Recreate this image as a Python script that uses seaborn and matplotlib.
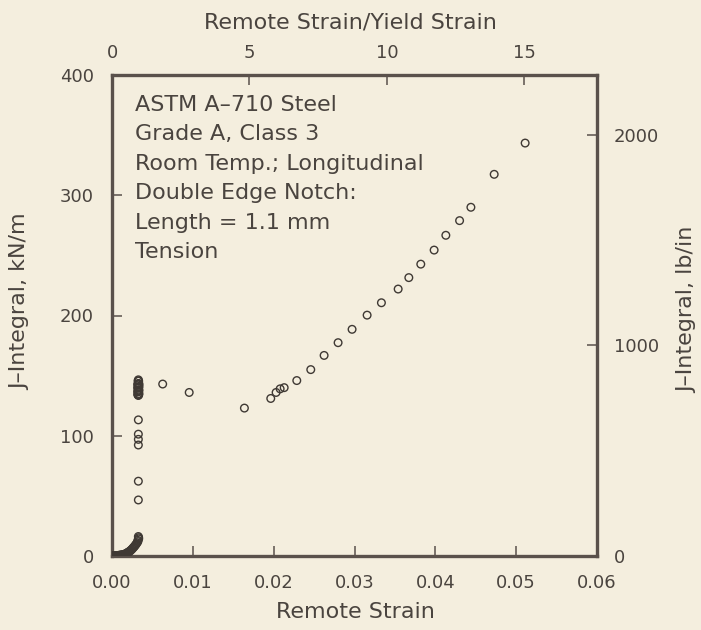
import matplotlib
matplotlib.use("Agg")
import matplotlib.pyplot as plt
import pandas as pd
import seaborn as sns

# Elastic loading from the origin up to general yield
ramp_strain = [0.0000, 0.0001, 0.0002, 0.0003, 0.0004, 0.0005, 0.0006, 0.0007,
               0.0008, 0.0009, 0.0010, 0.0011, 0.0012, 0.0013, 0.0014, 0.0015,
               0.0016, 0.0017, 0.0018, 0.0019, 0.0020, 0.0021, 0.0022, 0.0023,
               0.0024, 0.0025, 0.0026, 0.0027, 0.0028, 0.0029, 0.0030, 0.0031,
               0.0032, 0.0032, 0.0033, 0.0033]
ramp_j = [0.0, 0.0, 0.1, 0.1, 0.2, 0.2, 0.3, 0.4,
          0.5, 0.6, 0.7, 0.8, 0.9, 1.0, 1.1, 1.3,
          1.6, 1.9, 2.3, 2.7, 3.1, 3.5, 4.0, 4.6,
          5.2, 5.9, 6.7, 7.4, 8.2, 9.1, 10.0, 11.0,
          12.0, 13.0, 14.2, 15.2]

# Points recorded while the load rose at the yield strain
yield_strain = [0.00326, 0.00326, 0.00326, 0.00326, 0.00326, 0.00326, 0.00326,
                0.00318, 0.00322, 0.00326, 0.00330, 0.00334, 0.00318, 0.00322,
                0.00326, 0.00330, 0.00334, 0.00318, 0.00322, 0.00326, 0.00330,
                0.00334, 0.00318, 0.00322, 0.00326, 0.00330, 0.00334, 0.00322,
                0.00326, 0.00330]
yield_j = [16.2, 46.6, 62.2, 92.3, 97.0, 101.3, 113.2,
           134.5, 134.0, 133.5, 134.0, 135.0, 137.0, 136.5,
           137.5, 137.0, 138.0, 140.0, 139.5, 140.5, 140.0,
           141.0, 142.5, 143.0, 143.5, 142.5, 143.0, 145.5,
           146.5, 145.5]

# Post-yield loading
post_strain = [0.00627, 0.00955, 0.01638, 0.01964, 0.02030, 0.02080, 0.02130,
               0.02286, 0.02459, 0.02624, 0.02797, 0.02970, 0.03156, 0.03333,
               0.03540, 0.03672, 0.03820, 0.03985, 0.04130, 0.04300, 0.04440,
               0.04728, 0.05111]
post_j = [143.0, 136.0, 123.0, 131.0, 136.0, 139.0, 140.0,
          145.9, 155.0, 166.8, 177.4, 188.5, 200.3, 210.6,
          222.0, 231.5, 242.7, 254.4, 266.7, 278.9, 290.0,
          317.4, 343.4]

note_lines = ["ASTM A\u2013710 Steel", "Grade A, Class 3",
              "Room Temp.; Longitudinal", "Double Edge Notch:",
              "Length = 1.1 mm", "Tension"]

x_ticks = [0.00, 0.01, 0.02, 0.03, 0.04, 0.05, 0.06]
y_ticks = [0, 100, 200, 300, 400]
ratio_ticks = [0, 5, 10, 15]
lbin_ticks = [0, 1000, 2000]

YIELD_STRAIN = 0.0034     # remote strain at yield
KNM_TO_LBIN = 5.71        # 1 kN/m expressed in lb/in

BG = "#f4eede"
INK = "#4a443f"
FRAME = "#5a514b"
MARK = "#3f3934"

sns.set_theme(style="white")
plt.rcParams["font.family"] = ["DejaVu Sans"]
plt.rcParams["text.color"] = INK
plt.rcParams["axes.labelcolor"] = INK
plt.rcParams["xtick.color"] = FRAME
plt.rcParams["ytick.color"] = FRAME

df = pd.DataFrame({
    "strain": ramp_strain + yield_strain + post_strain,
    "J": ramp_j + yield_j + post_j,
})

W, H = 701, 630
fig = plt.figure(figsize=(W / 100, H / 100), dpi=100, facecolor=BG)
L, R, T, B = 112, 597, 75, 556
ax = fig.add_axes([L / W, 1 - B / H, (R - L) / W, (B - T) / H])
ax.set_facecolor(BG)

sns.scatterplot(data=df, x="strain", y="J", ax=ax, marker="o", s=30,
                facecolor="none", edgecolor=MARK, linewidth=1.0, zorder=3)

ax.set_xlim(0, 0.06)
ax.set_ylim(0, 400)
ax.set_xticks(x_ticks)
ax.set_xticklabels([f"{v:.2f}" for v in x_ticks])
ax.set_yticks(y_ticks)
ax.set_xlabel("")
ax.set_ylabel("")

for s in ax.spines.values():
    s.set_linewidth(2.4)
    s.set_color(FRAME)
    s.set_visible(True)

ax.tick_params(axis="x", direction="in", length=7, width=1.1, pad=13,
               labelsize=13, labelcolor=INK, bottom=True)
ax.tick_params(axis="y", direction="in", length=7, width=1.1, pad=13,
               labelsize=13, labelcolor=INK, left=True)

# top axis: strain normalised by the yield strain
top = ax.secondary_xaxis("top", functions=(lambda x: x / YIELD_STRAIN,
                                           lambda r: r * YIELD_STRAIN))
top.set_xticks(ratio_ticks)
top.tick_params(direction="in", length=7, width=1.1, pad=9,
                labelsize=13, labelcolor=INK)
top.spines["top"].set_visible(False)

# right axis: J in lb/in
right = ax.secondary_yaxis("right", functions=(lambda j: j * KNM_TO_LBIN,
                                               lambda v: v / KNM_TO_LBIN))
right.set_yticks(lbin_ticks)
right.tick_params(direction="in", length=7, width=1.1, pad=12,
                  labelsize=13, labelcolor=INK)
right.spines["right"].set_visible(False)

# axis titles
fig.text(355 / W, 1 - 612 / H, "Remote Strain", ha="center", va="center",
         fontsize=16, color=INK)
fig.text(350 / W, 1 - 23 / H, "Remote Strain/Yield Strain", ha="center",
         va="center", fontsize=16, color=INK)
fig.text(20 / W, 1 - 302 / H, "J\u2013Integral, kN/m", ha="center",
         va="center", rotation=90, fontsize=16, color=INK)
fig.text(687 / W, 1 - 310 / H, "J\u2013Integral, lb/in", ha="center",
         va="center", rotation=90, fontsize=16, color=INK)

# specimen description
for i, line in enumerate(note_lines):
    yp = 105 + i * 29.4
    fig.text(135 / W, 1 - yp / H, line, ha="left", va="center",
             fontsize=16, color=INK)

fig.savefig("out.png", dpi=100, facecolor=BG)
